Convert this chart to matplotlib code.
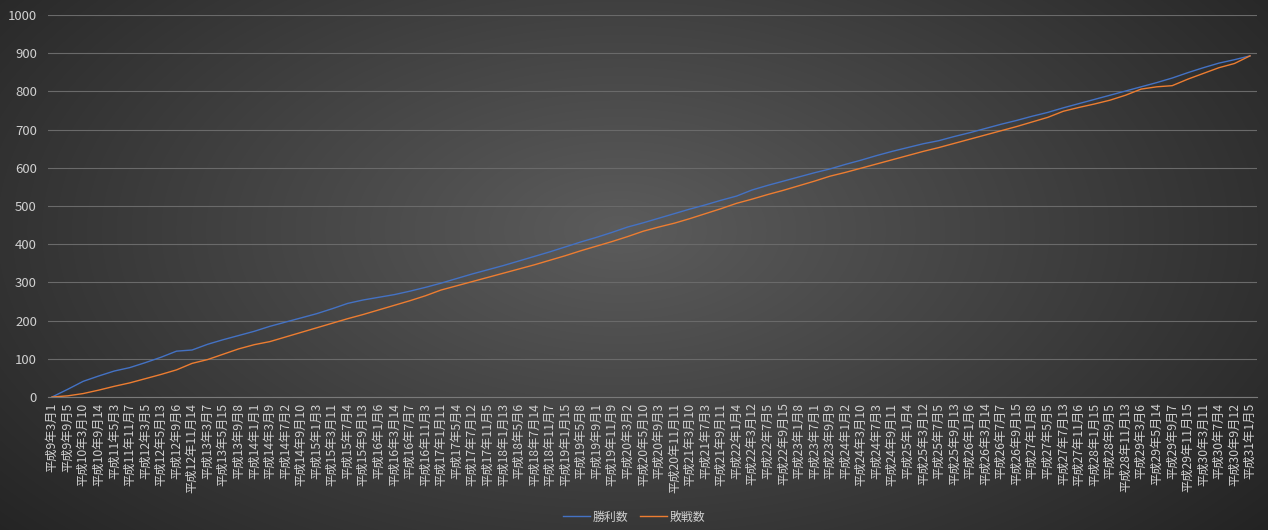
import numpy as np
import matplotlib
matplotlib.use('Agg')
from matplotlib import pyplot as plt

plt.rcParams['font.family'] = ['Noto Sans CJK JP', 'DejaVu Sans']

# category labels shown on the x axis (one per tick)
labels = [
    '平成9年3月1', '平成9年9月5', '平成10年3月10', '平成10年9月14', '平成11年5月3',
    '平成11年11月7', '平成12年3月5', '平成12年5月13', '平成12年9月6', '平成12年11月14',
    '平成13年3月7', '平成13年5月15', '平成13年9月8', '平成14年1月1', '平成14年3月9',
    '平成14年7月2', '平成14年9月10', '平成15年1月3', '平成15年3月11', '平成15年7月4',
    '平成15年9月13', '平成16年1月6', '平成16年3月14', '平成16年7月7', '平成16年11月3',
    '平成17年1月11', '平成17年5月4', '平成17年7月12', '平成17年11月5', '平成18年1月13',
    '平成18年5月6', '平成18年7月14', '平成18年11月7', '平成19年1月15', '平成19年5月8',
    '平成19年9月1', '平成19年11月9', '平成20年3月2', '平成20年5月10', '平成20年9月3',
    '平成20年11月11', '平成21年3月10', '平成21年7月3', '平成21年9月11', '平成22年1月4',
    '平成22年3月12', '平成22年7月5', '平成22年9月15', '平成23年1月8', '平成23年7月1',
    '平成23年9月9', '平成24年1月2', '平成24年3月10', '平成24年7月3', '平成24年9月11',
    '平成25年1月4', '平成25年3月12', '平成25年7月5', '平成25年9月13', '平成26年1月6',
    '平成26年3月14', '平成26年7月7', '平成26年9月15', '平成27年1月8', '平成27年5月5',
    '平成27年7月13', '平成27年11月6', '平成28年1月15', '平成28年9月5', '平成28年11月13',
    '平成29年3月6', '平成29年5月14', '平成29年9月7', '平成29年11月15', '平成30年3月11',
    '平成30年7月4', '平成30年9月12', '平成31年1月5',
]

wins = [
    0, 20, 41, 55, 68, 77, 90, 104, 120, 123,
    138, 150, 161, 172, 185, 196, 207, 218, 231, 245,
    254, 261, 268, 277, 287, 298, 310, 322, 333, 344,
    356, 368, 380, 393, 406, 418, 431, 445, 456, 468,
    480, 492, 503, 515, 526, 542, 554, 565, 576, 587,
    597, 609, 620, 632, 643, 653, 663, 671, 682, 692,
    703, 714, 724, 735, 745, 757, 768, 779, 790, 801,
    812, 823, 835, 849, 862, 874, 883, 893,
]

losses = [
    0, 3, 9, 18, 28, 37, 48, 59, 71, 88,
    98, 112, 126, 137, 145, 157, 169, 181, 193, 205,
    216, 228, 240, 252, 265, 280, 291, 302, 313, 324,
    335, 346, 358, 370, 383, 395, 407, 420, 434, 445,
    455, 467, 480, 493, 507, 518, 530, 541, 553, 565,
    578, 588, 599, 610, 621, 632, 643, 653, 664, 675,
    686, 697, 708, 720, 732, 748, 758, 767, 777, 790,
    806, 812, 815, 832, 847, 862, 873, 893,
]

W, H = 1268, 530
fig = plt.figure(figsize=(W / 100, H / 100), dpi=100)

# dark radial background
bg = fig.add_axes([0, 0, 1, 1])
yy, xx = np.mgrid[0:H, 0:W]
r = np.sqrt(((xx - 620) / 760.0) ** 2 + ((yy - 230) / 420.0) ** 2)
shade = np.clip(0.36 - 0.2 * r, 0.14, 0.36)
bg.imshow(np.dstack([shade, shade, shade]), aspect='auto', extent=[0, 1, 0, 1])
bg.set_axis_off()

ax = fig.add_axes([48 / W, 1 - 397 / H, (1257 - 48) / W, (397 - 15) / H])
ax.set_facecolor('none')

x = np.arange(len(labels))
ax.plot(x, wins, color='#4472C4', lw=1.0, label='勝利数')
ax.plot(x, losses, color='#ED7D31', lw=1.0, label='敗戦数')

ax.set_ylim(0, 1000)
ax.set_yticks(range(0, 1001, 100))
ax.set_xlim(-0.26, len(labels) - 1 + 0.45)
ax.set_xticks(x)
ax.set_xticklabels(labels, rotation=90, fontsize=8.8, color='#d0d0d0')
ax.tick_params(axis='y', labelsize=9.5, labelcolor='#d0d0d0', length=0, pad=8)
ax.tick_params(axis='x', length=0, pad=4)
ax.grid(axis='y', color='#6a6a6a', lw=0.8)
ax.set_axisbelow(True)
for s in ['top', 'right', 'left']:
    ax.spines[s].set_visible(False)
ax.spines['bottom'].set_color('#7a7a7a')

fig.legend(loc='center', bbox_to_anchor=(0.5, 1 - 517 / H), ncol=2, frameon=False,
           fontsize=8.6, labelcolor='#d0d0d0', handlelength=2.3, handletextpad=0.2,
           columnspacing=1.0)

fig.savefig('out.png', dpi=100)
